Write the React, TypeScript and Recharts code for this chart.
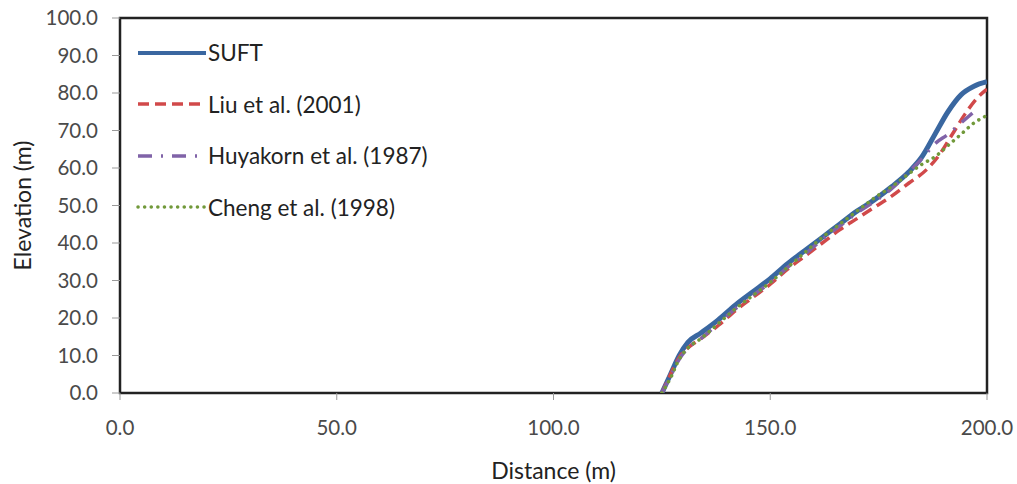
import React from 'react';
import { LineChart, Line, XAxis, YAxis, ReferenceArea, Label } from 'recharts';

// distance (m) / elevation (m) pairs
const suft = [
  [125, 0], [127, 5], [129, 10], [131, 13.5], [134, 16], [138, 19.5], [142, 23.5], [146, 27],
  [150, 30.5], [154, 34.5], [158, 38], [162, 41.5], [166, 45], [170, 48.5], [174, 51.5],
  [178, 55], [182, 59], [185, 63], [188, 69], [191, 75], [194, 79.5], [197, 81.8], [200, 83],
];
const liu = [
  [125, 0], [127, 5], [129, 9.5], [131, 12], [134, 14.5], [138, 18], [142, 22], [146, 25.5],
  [150, 29], [154, 33], [158, 36.5], [162, 40], [166, 43.5], [170, 46.5], [174, 49.5],
  [178, 52.5], [182, 56], [186, 59.5], [189, 63.5], [192, 69], [195, 74.5], [198, 79], [200, 81],
];
const huyakorn = [
  [125, 0], [127, 4.5], [129, 9], [131, 12], [134, 14.5], [138, 18.5], [142, 22.5], [146, 26],
  [150, 29.5], [154, 33.5], [158, 37], [162, 41], [166, 44.5], [170, 48], [174, 51],
  [178, 54.5], [182, 59], [185, 62.5], [188, 66.5], [191, 69], [194, 72], [196, 74], [198, 76],
];
const cheng = [
  [125, 0], [127, 4], [129, 9], [131, 12], [134, 14.5], [138, 18.5], [142, 22.5], [146, 26],
  [150, 29.5], [154, 33.5], [158, 37.5], [162, 41.5], [166, 45], [170, 48.5], [174, 52],
  [178, 55], [182, 58.5], [185, 61], [188, 63], [191, 66], [194, 69], [197, 72], [200, 74],
];

const xTicks = [0, 50, 100, 150, 200];
const yTicks = [0, 10, 20, 30, 40, 50, 60, 70, 80, 90, 100];

const toPts = (arr: number[][]) => arr.map(([x, y]) => ({ x, y }));

const series = [
  { name: 'SUFT', data: toPts(suft), color: '#3A67A0', width: 5, dash: undefined as string | undefined, cap: 'butt' },
  { name: 'Liu et al. (2001)', data: toPts(liu), color: '#D1494A', width: 3.5, dash: '11 6', cap: 'butt' },
  { name: 'Huyakorn et al. (1987)', data: toPts(huyakorn), color: '#8063A8', width: 3.5, dash: '14 9 2 9', cap: 'butt' },
  { name: 'Cheng et al. (1998)', data: toPts(cheng), color: '#71993A', width: 3.5, dash: '0.1 6.5', cap: 'round' },
];

const FONT = 'Lato, "Open Sans", sans-serif';

function LegendBox() {
  return (
    <div style={{ position: 'absolute', left: 136, top: 27, fontFamily: FONT, fontSize: 22.5, color: '#222' }}>
      {series.map((s) => (
        <div key={s.name} style={{ display: 'flex', alignItems: 'center', height: 51.5 }}>
          <svg width={72} height={10}>
            <line x1={2} y1={5} x2={70} y2={5} stroke={s.color} strokeWidth={s.width === 5 ? 4 : 3.5}
              strokeDasharray={s.dash} strokeLinecap={s.cap as any} />
          </svg>
          <span>{s.name}</span>
        </div>
      ))}
    </div>
  );
}

export default function App() {
  return (
    <div style={{ position: 'absolute', left: 0, top: 0, width: 1017, height: 484, background: '#fff' }}>
      <LineChart width={1017} height={484} margin={{ top: 18, right: 30, left: 0, bottom: 0 }}>
        <XAxis type="number" dataKey="x" domain={[0, 200]} ticks={xTicks} allowDataOverflow
          tickFormatter={(v: number) => v.toFixed(1)} height={91}
          axisLine={false} tickLine={{ stroke: '#999' }} tickSize={7} tickMargin={20}
          tick={{ fontSize: 20.5, fill: '#4a4a4a', fontFamily: FONT }}>
          <Label value="Distance (m)" position="insideBottom" offset={5}
            style={{ fontSize: 23, fill: '#222', fontFamily: FONT }} />
        </XAxis>
        <YAxis type="number" dataKey="y" domain={[0, 100]} ticks={yTicks} allowDataOverflow
          tickFormatter={(v: number) => v.toFixed(1)} width={120}
          axisLine={false} tickLine={{ stroke: '#999' }} tickSize={8} tickMargin={14}
          tick={{ fontSize: 20.5, fill: '#4a4a4a', fontFamily: FONT }}>
          <Label value="Elevation (m)" angle={-90} position="insideLeft" offset={23}
            style={{ fontSize: 23, fill: '#222', fontFamily: FONT, textAnchor: 'middle' }} />
        </YAxis>
        <ReferenceArea x1={0} x2={200} y1={0} y2={100} fill="none" stroke="#222" strokeWidth={2.5}
          ifOverflow="visible" />
        {series.map((s) => (
          <Line key={s.name} data={s.data} dataKey="y" name={s.name} type="monotone"
            stroke={s.color} strokeWidth={s.width} strokeDasharray={s.dash}
            strokeLinecap={s.cap as any} dot={false} isAnimationActive={false} />
        ))}
      </LineChart>
      <LegendBox />
    </div>
  );
}
